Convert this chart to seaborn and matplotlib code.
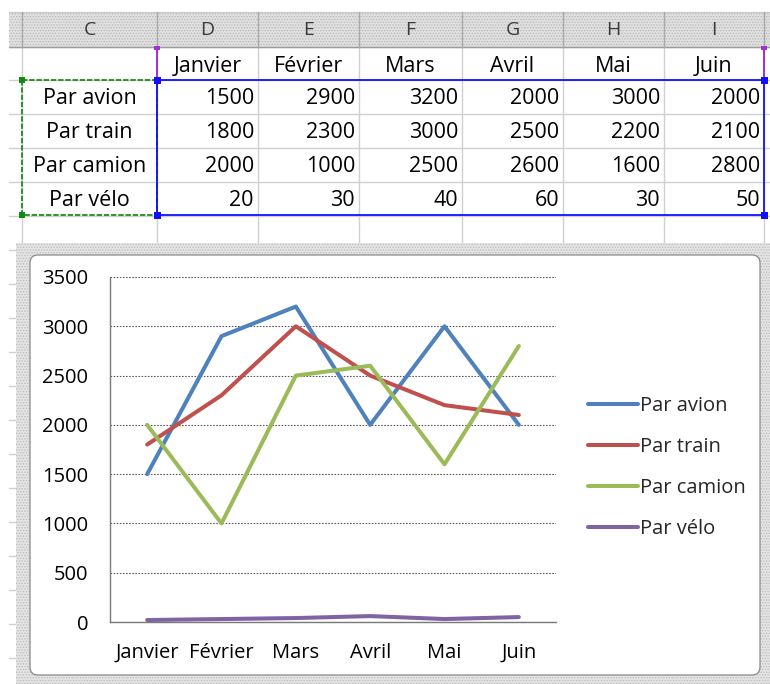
import matplotlib
matplotlib.use("Agg")
import matplotlib.pyplot as plt
from matplotlib.patches import Rectangle, FancyBboxPatch
import pandas as pd
import seaborn as sns

# ---- data -------------------------------------------------------------
months = ["Janvier", "Février", "Mars", "Avril", "Mai", "Juin"]
series_names = ["Par avion", "Par train", "Par camion", "Par vélo"]
par_avion = [1500, 2900, 3200, 2000, 3000, 2000]
par_train = [1800, 2300, 3000, 2500, 2200, 2100]
par_camion = [2000, 1000, 2500, 2600, 1600, 2800]
par_velo = [20, 30, 40, 60, 30, 50]
column_letters = ["C", "D", "E", "F", "G", "H", "I"]
y_ticks = [0, 500, 1000, 1500, 2000, 2500, 3000, 3500]
colors = ["#4F81BD", "#C0504D", "#9BBB59", "#8064A2"]

series_values = [par_avion, par_train, par_camion, par_velo]
df = pd.DataFrame({
    "mois": months * len(series_names),
    "moyen": [name for name in series_names for _ in months],
    "valeur": [v for vals in series_values for v in vals],
})

sns.set_style("white")
plt.rcParams["font.family"] = ["Open Sans", "DejaVu Sans"]
plt.rcParams["hatch.linewidth"] = 0.6

W, H = 770, 684
fig = plt.figure(figsize=(W / 100, H / 100), dpi=100)
fig.patch.set_facecolor("white")

TABLE_FS = 15.5
CHART_FS = 14.5

# ---- worksheet background (pixel coordinates) --------------------------
bg = fig.add_axes([0, 0, 1, 1])
bg.set_xlim(0, W)
bg.set_ylim(H, 0)
bg.axis("off")

col_edges = [22, 157, 258, 359, 462, 563, 664, 764]
row_edges = [47, 80, 114, 148, 182, 216]
grid_c = "#D0D0D0"
chart_top = 243

# cell gridlines
for y in row_edges:
    bg.plot([9, W], [y, y], color=grid_c, lw=1.0, zorder=1)
for x in col_edges:
    bg.plot([x, x], [47, chart_top], color=grid_c, lw=1.0, zorder=1)
for y in range(250, H, 34):
    bg.plot([9, 16], [y, y], color=grid_c, lw=1.0, zorder=1)

# column header band
bg.add_patch(Rectangle((9, 12), W - 9, 35, facecolor="#E0E0E0",
                       edgecolor="#B8B8B8", hatch="......", lw=0, zorder=2))
bg.plot([9, W], [47, 47], color="#9C9C9C", lw=1, zorder=3)
bg.plot([9, W], [12, 12], color="#C8C8C8", lw=0.8, zorder=3)
for x in col_edges:
    bg.plot([x, x], [12, 47], color="#A8A8A8", lw=1, zorder=3)
for i, letter in enumerate(column_letters):
    xc = (col_edges[i] + col_edges[i + 1]) / 2
    bg.text(xc, 30, letter, ha="center", va="center", fontsize=14,
            color="#3A3A3A", zorder=4)

# month labels
for i, m in enumerate(months):
    xc = (col_edges[i + 1] + col_edges[i + 2]) / 2
    bg.text(xc, 66, m, ha="center", va="center", fontsize=TABLE_FS, color="black", zorder=4)

# series rows
for r, (name, vals) in enumerate(zip(series_names, series_values)):
    yc = (row_edges[r + 1] + row_edges[r + 2]) / 2 + 1.5
    bg.text((col_edges[0] + col_edges[1]) / 2, yc, name, ha="center", va="center",
            fontsize=TABLE_FS, color="black", zorder=4)
    for i, v in enumerate(vals):
        bg.text(col_edges[i + 2] - 4, yc, f"{v}", ha="right", va="center",
                fontsize=TABLE_FS, color="black", zorder=4)

# selection outlines
bg.add_patch(Rectangle((22, 80), 135, 135, fill=False, edgecolor="#1E8C1E",
                       lw=1.3, linestyle=(0, (3, 1)), zorder=5))
bg.add_patch(Rectangle((157, 80), 607, 135, fill=False, edgecolor="#1010FF",
                       lw=1.3, zorder=6))
for x in (157, 764):
    bg.plot([x, x], [48, 80], color="#A030D0", lw=1.4, zorder=6)
    bg.add_patch(Rectangle((x - 3, 46), 6, 4, facecolor="#A030D0", lw=0, zorder=7))
for (x, y) in [(22, 80), (22, 215)]:
    bg.add_patch(Rectangle((x - 3, y - 3), 6, 6, facecolor="#138A13", lw=0, zorder=7))
for (x, y) in [(157, 80), (764, 80), (157, 215), (764, 215)]:
    bg.add_patch(Rectangle((x - 3.5, y - 3.5), 7, 7, facecolor="#1010FF", lw=0, zorder=7))

# chart object frame
bg.add_patch(Rectangle((16, chart_top), W - 16, H - chart_top, facecolor="#E4E4E4",
                       edgecolor="#BABABA", hatch="......", lw=0, zorder=8))
bg.add_patch(FancyBboxPatch((30, 255), 730, 420,
                            boxstyle="round,pad=0,rounding_size=8",
                            facecolor="white", edgecolor="#8A8A8A", lw=0.9, zorder=9))

# ---- line chart ---------------------------------------------------------
x0, x1, y_top, y_bot = 110, 556, 277, 622
ax = fig.add_axes([x0 / W, (H - y_bot) / H, (x1 - x0) / W, (y_bot - y_top) / H])
ax.set_facecolor("none")
ax.set_zorder(10)

sns.lineplot(data=df, x="mois", y="valeur", hue="moyen", hue_order=series_names,
             palette=colors, linewidth=2.9, sort=False, ax=ax)

ax.set_xlim(-0.5, len(months) - 0.5)
ax.set_ylim(0, 3500)
ax.set_xlabel("")
ax.set_ylabel("")
ax.set_xticks(range(len(months)))
ax.set_xticklabels(months)
ax.set_xticks([i - 0.5 for i in range(len(months) + 1)], minor=True)
ax.set_yticks(y_ticks)
ax.set_yticklabels([str(t) for t in y_ticks])

ax.yaxis.grid(True, color="#555555", linestyle=(0, (1.4, 1.4)), lw=0.8)
ax.xaxis.grid(False)
ax.set_axisbelow(True)
for side in ("top", "right"):
    ax.spines[side].set_visible(False)
for side in ("left", "bottom"):
    ax.spines[side].set_color("#7A7A7A")
    ax.spines[side].set_linewidth(1)

ax.tick_params(axis="x", which="major", length=0, pad=15, labelsize=CHART_FS, labelcolor="black")
ax.tick_params(axis="x", which="minor", length=5, width=1, color="#7A7A7A", direction="out")
ax.tick_params(axis="y", which="major", length=4.3, width=0.8, color="#555555",
               direction="out", pad=11.5, labelsize=CHART_FS, labelcolor="black")

handles, labels = ax.get_legend_handles_labels()
ax.legend(handles, labels, loc="center left", bbox_to_anchor=(588 / W, 1 - 467.5 / H),
          bbox_transform=fig.transFigure, frameon=False, fontsize=CHART_FS,
          handlelength=2.5, handletextpad=0.1, borderpad=0, borderaxespad=0,
          labelspacing=1.03)

fig.savefig("out.png", dpi=100, facecolor="white")
